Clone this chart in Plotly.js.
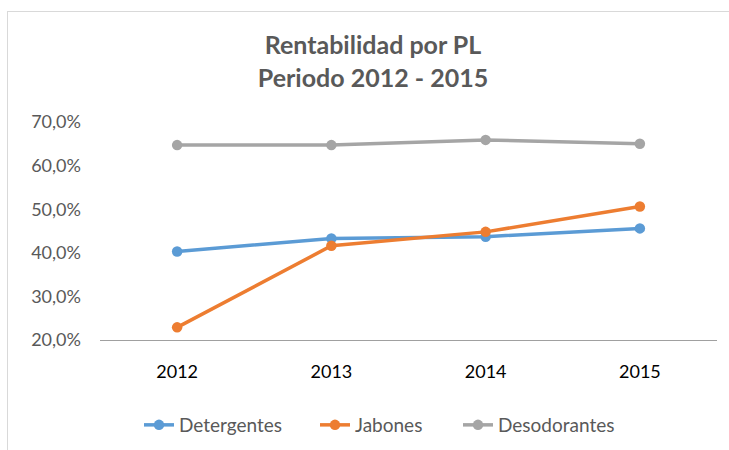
<!DOCTYPE html>
<html>
<head>
<meta charset="utf-8">
<script src="https://cdn.plot.ly/plotly-3.0.1.min.js"></script>
<style>
html,body{margin:0;padding:0;background:#fff;overflow:hidden;}
#frame{position:absolute;left:7px;top:11px;width:800px;height:600px;border:1px solid #d9d9d9;box-sizing:border-box;pointer-events:none;}
#chart{position:absolute;left:0;top:0;width:729px;height:450px;}
</style>
</head>
<body>
<div id="frame"></div>
<div id="chart"></div>
<script>
const years = ['2012', '2013', '2014', '2015'];
const detergentes = [40.3, 43.3, 43.7, 45.6];
const jabones = [22.9, 41.6, 44.8, 50.6];
const desodorantes = [64.7, 64.7, 65.9, 65.0];
const seriesNames = ['Detergentes', 'Jabones', 'Desodorantes'];
const seriesColors = ['#5B9BD5', '#ED7D31', '#A5A5A5'];
const seriesValues = [detergentes, jabones, desodorantes];
const legendIds = ['legend', 'legend2', 'legend3'];
const legendLeft = [139, 315, 458];

const FONT = 'Lato, "Open Sans", sans-serif';

const traces = seriesNames.map((name, i) => ({
  type: 'scatter',
  mode: 'lines+markers',
  name: name,
  legend: legendIds[i],
  x: years,
  y: seriesValues[i],
  line: {color: seriesColors[i], width: 3.5},
  marker: {color: seriesColors[i], size: 10.5}
}));

const layout = {
  width: 729,
  height: 450,
  paper_bgcolor: 'rgba(0,0,0,0)',
  plot_bgcolor: 'rgba(0,0,0,0)',
  separators: ',.',
  margin: {l: 100, r: 12, t: 122, b: 110},
  font: {family: FONT, color: '#595959'},
  title: {
    text: '<b>Rentabilidad por PL</b><br><b>Periodo 2012 - 2015</b>',
    font: {family: FONT, size: 25, color: '#595959'},
    x: 373 / 729, xref: 'container', xanchor: 'center',
    y: 1 - 54 / 450, yref: 'container', yanchor: 'middle'
  },
  xaxis: {
    type: 'category',
    range: [-0.5, 3.5],
    showgrid: false,
    zeroline: false,
    showline: true,
    linecolor: '#a0a0a0',
    linewidth: 1,
    ticks: '',
    ticklabelstandoff: 15,
    tickfont: {family: FONT, size: 18, color: '#000000'},
    fixedrange: true
  },
  yaxis: {
    range: [20, 70],
    dtick: 10,
    tick0: 20,
    tickformat: '.1f',
    ticksuffix: '%',
    showgrid: false,
    zeroline: false,
    showline: false,
    ticks: '',
    ticklabelstandoff: 18,
    tickfont: {family: FONT, size: 18, color: '#595959'},
    fixedrange: true
  },
  showlegend: true
};

legendIds.forEach((id, i) => {
  layout[id] = {
    orientation: 'h',
    xref: 'container', yref: 'container',
    x: legendLeft[i] / 729, xanchor: 'left',
    y: 1 - 425 / 450, yanchor: 'middle',
    font: {family: FONT, size: 19, color: '#595959'},
    bgcolor: 'rgba(0,0,0,0)'
  };
});

Plotly.newPlot('chart', traces, layout, {displayModeBar: false, staticPlot: true});
</script>
</body>
</html>
